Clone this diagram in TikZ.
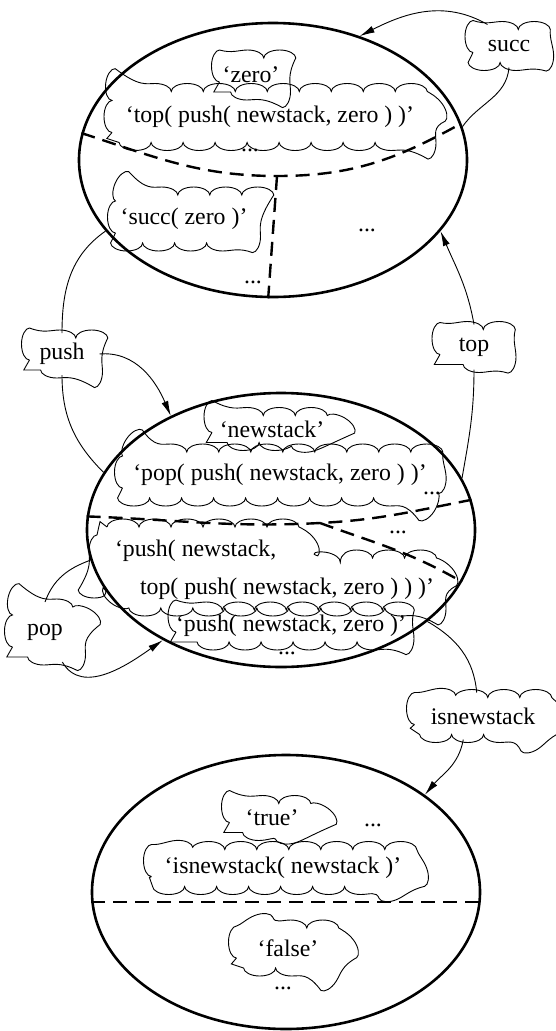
\documentclass[tikz,border=0pt]{standalone}
\usepackage{fontspec}
\setmainfont{Liberation Serif}
\usetikzlibrary{shapes.geometric, decorations.pathmorphing, arrows.meta}

\newcommand\termfont{\fontsize{23.8}{28}\selectfont}

\tikzset{
  carrier/.style={ellipse, draw, line width=2.6pt, minimum width=388pt,
                 minimum height=274pt, inner sep=0pt},
  partline/.style={line width=2.4pt, dash pattern=on 14pt off 8pt},
  termbox/.style={inner sep=0pt, outer sep=5pt},
  dots/.style={inner sep=0pt},
  puff/.style={draw, line width=0.9pt, rounded corners=10pt, decorate,
               decoration={bumps, segment length=64pt, amplitude=8pt}},
  conn/.style={line width=0.9pt},
  arr/.style={conn, -{Latex[length=15pt,width=7pt]}},
}

\begin{document}
\begin{tikzpicture}[x=1pt, y=-1pt, font=\termfont]
\useasboundingbox (0,0) rectangle (555,1031);

% the three carrier sets
\node[carrier] (e1) at (273,160) {};
\node[carrier] (e2) at (281,530) {};
\node[carrier] (e3) at (286,892) {};

% terms of the first set
\node[termbox, minimum width=63pt,  minimum height=34pt] (zero) at (251,75)  {`zero'};
\node[termbox, minimum width=316pt, minimum height=51pt] (tpz)  at (270,117) {`top( push( newstack, zero ) )'};
\node[termbox, minimum width=137pt, minimum height=48pt] (sz)   at (184,219) {`succ( zero )'};
\node[dots] (d1) at (250,150) {...};
\node[dots] (d2) at (367,230) {...};
\node[dots] (d3) at (253,282) {...};

% terms of the second set
\node[termbox, minimum width=120pt, minimum height=27pt] (nsk) at (272,429) {`newstack'};
\node[termbox, minimum width=315pt, minimum height=46pt] (ppz) at (280,475) {`pop( push( newstack, zero ) )'};
\node[termbox, anchor=west] (pn1) at (110,551) {`push( newstack,};
\node[termbox, anchor=west] (pn2) at (135,589) {top( push( newstack, zero ) ) )'};
\node[termbox, minimum width=224pt, minimum height=32pt] (pnz) at (291,626) {`push( newstack, zero )'};
\node[dots] (d4) at (432,493) {...};
\node[dots] (d5) at (398,532) {...};
\node[dots] (d6) at (287,653) {...};

% terms of the third set
\node[termbox, minimum width=85pt,  minimum height=29pt] (tru) at (272,818) {`true'};
\node[termbox, minimum width=263pt, minimum height=37pt] (isn) at (283,868) {`isnewstack( newstack )'};
\node[termbox, minimum width=103pt, minimum height=40pt] (fls) at (288,948) {`false'};
\node[dots] (d7) at (373,825) {...};
\node[dots] (d8) at (283,988) {...};

% operation names
\node[termbox, minimum width=72pt,  minimum height=33pt] (succ) at (509,46)  {succ};
\node[termbox, minimum width=65pt,  minimum height=32pt] (push) at (62,354)  {push};
\node[termbox, minimum width=68pt,  minimum height=35pt] (topl) at (474,347) {top};
\node[termbox, minimum width=65pt,  minimum height=50pt] (pop)  at (45,632)  {pop};
\node[termbox, minimum width=137pt, minimum height=37pt] (isnl) at (483,716) {isnewstack};

% cloud outlines (corners are rounded first, the bumps are then laid on sharply)
\foreach \n in {zero,tpz,sz,nsk,ppz,pnz,tru,isn,fls,succ,push,topl,pop,isnl}
  \draw[puff] ([shift={(5pt,5pt)}]\n.south west) rectangle ([shift={(-5pt,-5pt)}]\n.north east) [sharp corners];
\draw[puff] (97,527) -- (300,527) -- (300,558) -- (438,558) -- (438,608)
            -- (125,608) -- (125,590) -- (97,590) -- cycle [sharp corners];

% partitions of the sets
\coordinate (m1) at (277,176);
\draw[partline] (e1.172) to[out=-18,in=180] (m1) to[out=0,in=209] (e1.11.5);
\draw[partline] (m1) -- (e1.-92);
\coordinate (m2) at (320,523);
\draw[partline] (e2.176) to[out=-2,in=183] (m2) to[out=3,in=191] (e2.9.3);
\draw[partline] (m2) to[out=-20,in=150] (e2.-16);
\draw[partline] (e3.183) -- (e3.-3);

% operations
\draw[conn] (e1.10) to[out=55,in=-95] (succ.south);
\draw[arr]  (succ.135) to[out=150,in=27] (e1.55);
\draw[conn] (e1.-157.7) to[out=215,in=90] (push.north);
\draw[arr]  (push.east) to[out=5,in=113] (e2.134.5);
\draw[conn] (push.south) to[out=-90,in=135] (e2.162);
\draw[arr]  (topl.north) to[out=100,in=-67] (e1.-23.6);
\draw[conn] (topl.south) to[out=-90,in=80] (e2.16.6);
\draw[conn] (e2.189.6) to[out=200,in=70] (pop.north);
\draw[arr]  (pop.-60) to[out=-60,in=215] (e2.223);
\draw[conn] (e2.-32.6) to[out=-30,in=95] (isnl.105);
\draw[arr]  (isnl.-130) to[out=-100,in=50] (e3.35.9);
\end{tikzpicture}
\end{document}
